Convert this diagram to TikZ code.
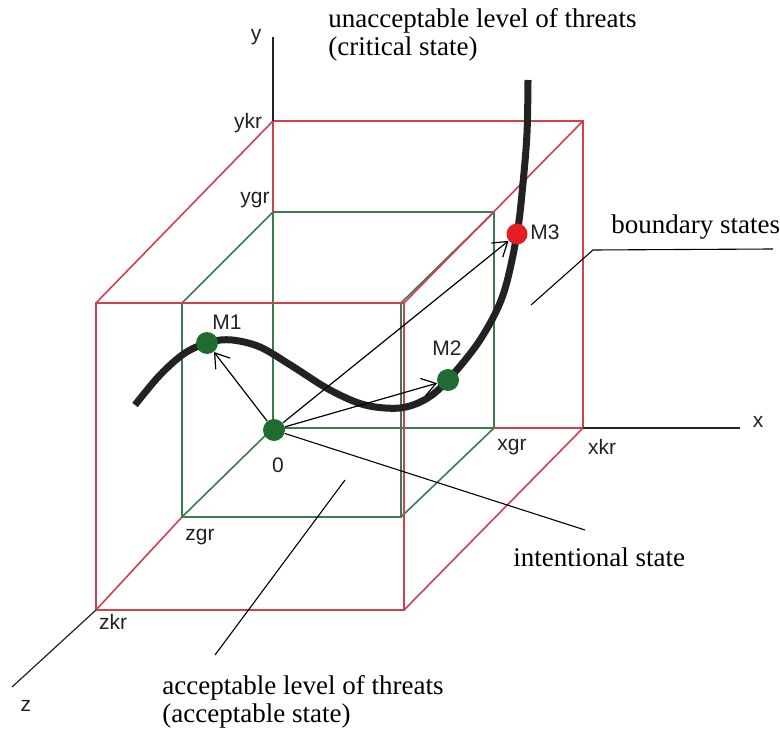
\documentclass[tikz,border=0pt]{standalone}
\usepackage{fontspec}
\setmainfont{Liberation Serif}
\setsansfont{Liberation Sans}
\usepackage{xcolor}
\definecolor{cCrit}{HTML}{D2404E}
\definecolor{cAcc}{HTML}{3C7A50}
\definecolor{cDotOK}{HTML}{1F6B30}
\definecolor{cDotBad}{HTML}{E31E24}
\definecolor{cInk}{HTML}{222222}
\usepackage{tikz}
\usetikzlibrary{arrows.meta}
\tikzset{
  edge-crit/.style={draw=cCrit,line width=0.8pt,line join=miter},
  edge-acc/.style={draw=cAcc,line width=0.8pt,line join=miter},
  axis/.style={draw=cInk,line width=0.6pt},
  trace/.style={draw=cInk,line width=3.5pt},
  vec/.style={-{Straight Barb[length=2.4mm,width=3.2mm]},draw=black,line width=0.6pt},
  leader/.style={draw=black,line width=0.55pt},
  dot-ok/.style={circle,fill=cDotOK,minimum size=11pt,inner sep=0pt},
  dot-bad/.style={circle,fill=cDotBad,minimum size=10.5pt,inner sep=0pt},
  lbl/.style={font=\sffamily\fontsize{10.5}{12}\selectfont,text=cInk,inner sep=0pt},
  note/.style={font=\fontsize{13.5}{14}\selectfont,align=left,inner sep=0pt},
}

\begin{document}
\begin{tikzpicture}[x=0.5pt,y=-0.5pt]
  \useasboundingbox (0,0) rectangle (780,731);

  % axes ends and cube corners (pixel grid, y down)
  \coordinate (orig) at (273,428);
  \coordinate (ytop) at (273,37);
  \coordinate (xend) at (740,428);
  \coordinate (zend) at (12,687);
  \coordinate (ykr) at (273,121);
  \coordinate (ygr) at (273,212);
  \coordinate (xkr) at (583,428);
  \coordinate (xgr) at (494,428);
  \coordinate (zkr) at (96,610);
  \coordinate (zgr) at (182,517);
  \coordinate (k-btr) at (583,121);
  \coordinate (k-ftl) at (96,303);
  \coordinate (k-ftr) at (404,303);
  \coordinate (k-fbr) at (404,610);
  \coordinate (g-btr) at (494,212);
  \coordinate (g-ftl) at (182,303);
  \coordinate (g-ftr) at (401,303);
  \coordinate (g-fbr) at (401,517);

  % acceptable region
  \draw[edge-acc] (ygr) -- (g-btr) -- (xgr) -- (orig) -- cycle;
  \draw[edge-acc] (g-ftl) -- (g-ftr) -- (g-fbr) -- (zgr) -- cycle;
  \draw[edge-acc] (ygr) -- (g-ftl) (g-btr) -- (g-ftr) (xgr) -- (g-fbr) (orig) -- (zgr);

  % critical region
  \draw[edge-crit] (ygr) -- (ykr) -- (k-btr) -- (xkr) -- (xgr);
  \draw[edge-crit] (k-ftl) -- (k-ftr) -- (k-fbr) -- (zkr) -- cycle;
  \draw[edge-crit] (ykr) -- (k-ftl) (k-btr) -- (k-ftr) (xkr) -- (k-fbr) (zgr) -- (zkr);

  \draw[axis] (ykr) -- (ytop);
  \draw[axis] (xkr) -- (xend);
  \draw[axis] (zkr) -- (zend);

  % trajectory
  \draw[trace] plot[smooth,tension=0.55] coordinates {(135,405) (160,375)
    (185,353) (210,342) (232,340) (260,347) (292,366) (330,390) (365,405)
    (400,408) (426,399) (448,380) (480,340) (503,295) (517,234) (523,183)
    (527,133) (528,80)};

  \node[dot-ok] (n0) at (274,430) {};
  \node[dot-ok] (m1) at (207,343) {};
  \node[dot-ok] (m2) at (448,380) {};
  \node[dot-bad] (m3) at (517,234) {};

  \draw[vec] (n0) -- (m1);
  \draw[vec] (n0) -- (m2);
  \draw[vec] (n0) -- (m3);

  % leaders
  \coordinate (intl) at (585,530);
  \coordinate (bnd-a) at (773,249);
  \coordinate (bnd-b) at (593,250);
  \coordinate (bnd-c) at (531,305);
  \coordinate (acc-a) at (345,480);
  \coordinate (acc-b) at (215,655);
  \draw[leader] (n0) -- (intl);
  \draw[leader] (bnd-a) -- (bnd-b) -- (bnd-c);
  \draw[leader] (acc-a) -- (acc-b);

  \node[lbl] (l-y) at (256,37) {y};
  \node[lbl] (l-x) at (758,422) {x};
  \node[lbl] (l-z) at (26,706) {z};
  \node[lbl] (l-ykr) at (248,123) {ykr};
  \node[lbl] (l-ygr) at (255,200) {ygr};
  \node[lbl] (l-xgr) at (512,447) {xgr};
  \node[lbl] (l-xkr) at (602,447) {xkr};
  \node[lbl] (l-zgr) at (200,537) {zgr};
  \node[lbl] (l-zkr) at (113,622) {zkr};
  \node[lbl] (l-0) at (278,465) {0};
  \node[lbl] (l-m1) at (227,322) {M1};
  \node[lbl] (l-m2) at (447,348) {M2};
  \node[lbl] (l-m3) at (545,232) {M3};

  \node[note,anchor=north west] (t-crit) at (328,8) {unacceptable level of threats\\(critical state)};
  \node[note,anchor=west] (t-bnd) at (611,227) {boundary states};
  \node[note,anchor=west] (t-int) at (513,557) {intentional state};
  \node[note,anchor=north west] (t-acc) at (162,675) {acceptable level of threats\\(acceptable state)};
\end{tikzpicture}
\end{document}
